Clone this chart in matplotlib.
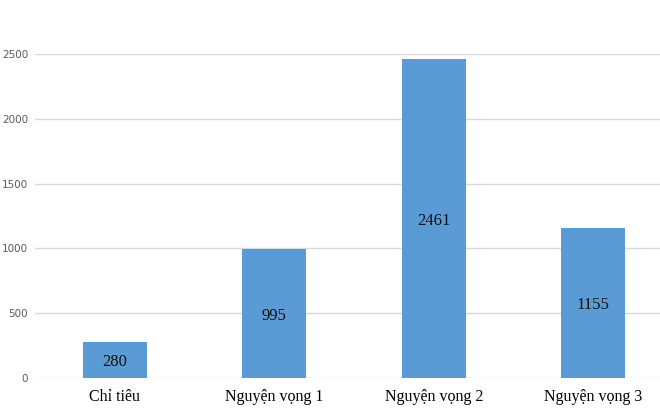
import matplotlib.pyplot as plt

categories = ['Chỉ tiêu', 'Nguyện vọng 1', 'Nguyện vọng 2', 'Nguyện vọng 3']
values = [280, 995, 2461, 1155]
yticks = [0, 500, 1000, 1500, 2000, 2500]

fig = plt.figure(figsize=(6.6, 4.13), dpi=100)
ax = fig.add_axes([35 / 660, 35 / 413, 638 / 660, 324 / 413])

x = range(len(categories))
bars = ax.bar(x, values, width=0.4, color='#5B9BD5', zorder=3)

for b, v in zip(bars, values):
    ax.text(b.get_x() + b.get_width() / 2, v / 2, str(v),
            ha='center', va='center_baseline', fontsize=12,
            family='Liberation Serif', color='#111111', zorder=4)

ax.set_xlim(-0.5, len(categories) - 0.5)
ax.set_ylim(0, 2500)
ax.set_yticks(yticks)
ax.set_yticklabels([str(t) for t in yticks], fontsize=7.5, color='#595959')
ax.set_xticks(list(x))
ax.set_xticklabels(categories, fontsize=11.5, family='Liberation Serif', color='black')
ax.tick_params(axis='both', length=0)
ax.tick_params(axis='y', pad=5)
ax.tick_params(axis='x', pad=8)

ax.grid(axis='y', color='#D9D9D9', linewidth=1, zorder=0)
ax.set_axisbelow(True)
for s in ax.spines.values():
    s.set_visible(False)

fig.savefig('out.png', dpi=100)
